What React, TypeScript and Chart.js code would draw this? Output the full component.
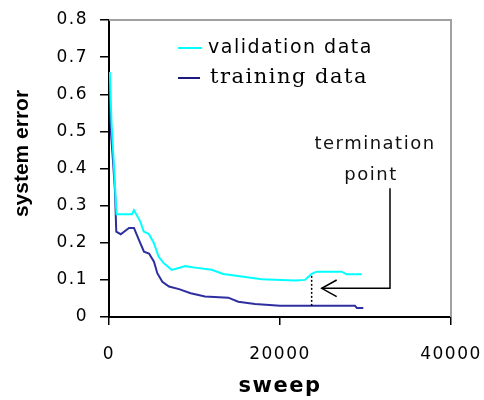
import { useEffect, useRef } from "react";
import { Chart, registerables } from "chart.js";

Chart.register(...registerables);

// ---- data ----
const valSweep = [100, 300, 550, 800, 880, 2690, 2920, 3660, 4060, 4640, 5230, 5810, 6400, 7330, 8150, 8930, 10060, 12000, 13370, 15520, 17860, 21750, 22920, 23700, 24290, 27210, 27800, 29560];
const valError = [0.66, 0.52, 0.42, 0.31, 0.277, 0.277, 0.288, 0.257, 0.23, 0.224, 0.2, 0.162, 0.145, 0.127, 0.132, 0.137, 0.133, 0.127, 0.116, 0.109, 0.102, 0.098, 0.1, 0.116, 0.122, 0.122, 0.115, 0.115];
const trainSweep = [0, 250, 470, 700, 850, 1370, 2340, 2920, 3510, 4090, 4680, 5260, 5650, 6240, 7020, 8190, 9550, 11230, 13950, 15120, 17080, 20000, 28770, 29000, 29740];
const trainError = [0.64, 0.49, 0.42, 0.34, 0.23, 0.223, 0.24, 0.24, 0.207, 0.176, 0.171, 0.149, 0.118, 0.095, 0.082, 0.075, 0.064, 0.055, 0.052, 0.041, 0.035, 0.03, 0.03, 0.024, 0.024];
const seriesNames = ["validation data", "training data"];
const xTickValues = [0, 20000, 40000];
const yTickValues = [0, 0.1, 0.2, 0.3, 0.4, 0.5, 0.6, 0.7, 0.8];
const xTitle = "sweep";
const yTitle = "system error";
const noteLines = ["termination", "point"];
// termination marker (data units)
const termSweep = 23700;
const termLow = 0.03;
const termHigh = 0.116;
const arrowTipSweep = 24880;
const arrowHeadSweep = 26630;
const arrowY = 0.0773;
const arrowHeadUp = 0.0997;
const arrowHeadDown = 0.0547;
const arrowCornerSweep = 32865;
const arrowTopY = 0.347;

const VAL_COLOR = "#00ffff";
const TRAIN_COLOR = "#2e2ea0";
const TRAIN_LEGEND_COLOR = "#1a1a80";

const zip = (xs: number[], ys: number[]) => xs.map((x, i) => ({ x, y: ys[i] }));

const spacingPlugin = {
  id: "spacing",
  beforeDraw(chart: any) {
    chart.ctx.letterSpacing = "1.5px";
  },
  afterDraw(chart: any) {
    chart.ctx.letterSpacing = "0px";
  },
};

const decorPlugin = {
  id: "decor",
  afterDraw(chart: any) {
    const ctx = chart.ctx as CanvasRenderingContext2D & { letterSpacing: string };
    const { left, right, top, bottom } = chart.chartArea;
    const sx = (v: number) => chart.scales.x.getPixelForValue(v);
    const sy = (v: number) => chart.scales.y.getPixelForValue(v);
    ctx.save();
    // top & right frame
    ctx.strokeStyle = "#a0a0a0";
    ctx.lineWidth = 2;
    ctx.beginPath();
    ctx.moveTo(left, top);
    ctx.lineTo(right, top);
    ctx.lineTo(right, bottom);
    ctx.stroke();

    // dotted termination line
    ctx.strokeStyle = "#000";
    ctx.lineWidth = 1.5;
    ctx.setLineDash([2, 2]);
    ctx.beginPath();
    ctx.moveTo(sx(termSweep), sy(termLow));
    ctx.lineTo(sx(termSweep), sy(termHigh));
    ctx.stroke();
    ctx.setLineDash([]);

    // arrow
    ctx.beginPath();
    ctx.moveTo(sx(arrowCornerSweep), sy(arrowTopY));
    ctx.lineTo(sx(arrowCornerSweep), sy(arrowY));
    ctx.lineTo(sx(arrowTipSweep), sy(arrowY));
    ctx.stroke();
    ctx.beginPath();
    ctx.moveTo(sx(arrowHeadSweep), sy(arrowHeadUp));
    ctx.lineTo(sx(arrowTipSweep), sy(arrowY));
    ctx.lineTo(sx(arrowHeadSweep), sy(arrowHeadDown));
    ctx.stroke();

    // note text
    ctx.fillStyle = "#111";
    ctx.letterSpacing = "1.5px";
    ctx.font = "18px 'DejaVu Sans'";
    ctx.textAlign = "center";
    ctx.textBaseline = "alphabetic";
    ctx.fillText(noteLines[0], left + 266, top + 129);
    ctx.fillText(noteLines[1], left + 262, top + 160);

    // legend
    ctx.textAlign = "left";
    ctx.lineWidth = 2;
    ctx.strokeStyle = VAL_COLOR;
    ctx.beginPath();
    ctx.moveTo(left + 69, top + 28);
    ctx.lineTo(left + 93, top + 28);
    ctx.stroke();
    ctx.fillStyle = "#000";
    ctx.font = "19px 'DejaVu Sans'";
    ctx.fillText(seriesNames[0], left + 99, top + 33);
    ctx.strokeStyle = TRAIN_LEGEND_COLOR;
    ctx.beginPath();
    ctx.moveTo(left + 69, top + 58);
    ctx.lineTo(left + 91, top + 58);
    ctx.stroke();
    ctx.font = "21px 'DejaVu Serif'";
    ctx.fillText(seriesNames[1], left + 101, top + 63);

    // y title
    ctx.letterSpacing = "0px";
    ctx.font = "bold 21px 'Liberation Sans'";
    ctx.textAlign = "center";
    ctx.textBaseline = "middle";
    ctx.translate(22, 153.5);
    ctx.rotate(-Math.PI / 2);
    ctx.fillText(yTitle, 0, 0);
    ctx.restore();
  },
};

export default function App() {
  const ref = useRef<HTMLCanvasElement | null>(null);
  useEffect(() => {
    if (!ref.current) return;
    const chart = new Chart(ref.current, {
      type: "line",
      data: {
        datasets: [
          {
            label: seriesNames[0],
            data: zip(valSweep, valError),
            borderColor: VAL_COLOR,
            borderWidth: 2,
            pointRadius: 0,
            tension: 0,
            fill: false,
          },
          {
            label: seriesNames[1],
            data: zip(trainSweep, trainError),
            borderColor: TRAIN_COLOR,
            borderWidth: 2,
            pointRadius: 0,
            tension: 0,
            fill: false,
          },
        ],
      },
      options: {
        animation: false,
        responsive: false,
        devicePixelRatio: 1,
        layout: { padding: { top: 20, right: 33, left: 0, bottom: 0 } },
        plugins: { legend: { display: false }, tooltip: { enabled: false } },
        scales: {
          x: {
            type: "linear",
            min: 0,
            max: 40000,
            afterFit: (s: any) => {
              s.height = 83;
              s.paddingLeft = 0;
              s.paddingRight = 0;
            },
            afterBuildTicks: (s: any) => {
              s.ticks = xTickValues.map((v) => ({ value: v }));
            },
            ticks: {
              callback: (v: any) => String(v),
              font: { family: "DejaVu Sans", size: 17 },
              color: "#000",
              padding: 19,
              maxRotation: 0,
            },
            grid: {
              drawOnChartArea: false,
              drawTicks: true,
              tickLength: 8,
              color: "#000",
              lineWidth: 1.5,
            },
            border: { display: true, color: "#000", width: 2 },
            title: {
              display: true,
              text: xTitle,
              font: { family: "DejaVu Sans", size: 21, weight: "bold" },
              color: "#000",
              padding: { top: 0, bottom: 1 },
            },
          },
          y: {
            type: "linear",
            min: 0,
            max: 0.8,
            afterFit: (s: any) => {
              s.width = 109;
              s.paddingTop = 0;
              s.paddingBottom = 0;
            },
            afterBuildTicks: (s: any) => {
              s.ticks = yTickValues.map((v) => ({ value: v }));
            },
            ticks: {
              callback: (v: any) => (Number(v) === 0 ? "0" : Number(v).toFixed(1)),
              font: { family: "DejaVu Sans", size: 17 },
              color: "#000",
              padding: 12,
            },
            grid: {
              drawOnChartArea: false,
              drawTicks: true,
              tickLength: 9,
              color: "#000",
              lineWidth: 1.5,
            },
            border: { display: true, color: "#000", width: 2 },
          },
        },
      } as any,
      plugins: [spacingPlugin, decorPlugin],
    });
    return () => chart.destroy();
  }, []);
  return (
    <div style={{ position: "fixed", left: 0, top: 0, width: 484, height: 400, background: "#fff" }}>
      <canvas ref={ref} width={484} height={400} style={{ display: "block" }} />
    </div>
  );
}
